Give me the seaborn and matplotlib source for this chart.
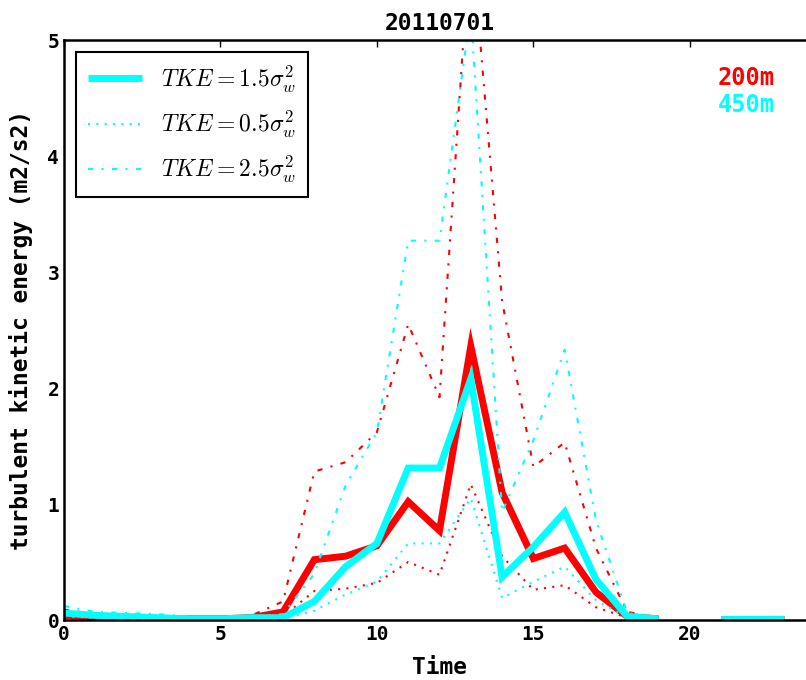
import numpy as np
import pandas as pd
import matplotlib
matplotlib.use("Agg")
import matplotlib.pyplot as plt
import seaborn as sns

hours = list(range(24))

# 200m (red)
red_15 = [0.04, 0.02, 0.02, 0.01, 0.01, 0.01, 0.02, 0.07, 0.52, 0.55, 0.64, 1.02, 0.77, 2.36,
          1.10, 0.53, 0.62, 0.24, 0.03, 0.01, np.nan, 0.01, 0.01, 0.01]
red_05 = [0.02, 0.01, 0.01, 0.01, 0.01, 0.01, 0.01, 0.03, 0.25, 0.27, 0.32, 0.50, 0.39, 1.17,
          0.55, 0.26, 0.30, 0.11, 0.02, 0.01, np.nan, 0.01, 0.01, 0.01]
red_25 = [0.09, 0.05, 0.04, 0.03, 0.03, 0.02, 0.04, 0.16, 1.28, 1.36, 1.62, 2.55, 1.92, 5.95,
          2.75, 1.32, 1.53, 0.62, 0.07, 0.02, np.nan, 0.02, 0.02, 0.02]

# 450m (cyan)
cyan_15 = [0.06, 0.04, 0.03, 0.02, 0.01, 0.01, 0.02, 0.02, 0.16, 0.46, 0.66, 1.31, 1.31, 2.08,
           0.37, 0.63, 0.93, 0.35, 0.03, 0.01, np.nan, 0.01, 0.01, 0.01]
cyan_05 = [0.03, 0.02, 0.02, 0.01, 0.01, 0.01, 0.01, 0.01, 0.08, 0.22, 0.33, 0.66, 0.66, 1.05,
           0.19, 0.33, 0.46, 0.17, 0.02, 0.01, np.nan, 0.01, 0.01, 0.01]
cyan_25 = [0.12, 0.07, 0.06, 0.05, 0.03, 0.02, 0.03, 0.05, 0.40, 1.16, 1.62, 3.27, 3.27, 5.25,
           0.93, 1.55, 2.33, 0.86, 0.06, 0.02, np.nan, 0.02, 0.02, 0.02]

labels = [r"$TKE = 1.5\sigma_w^2$", r"$TKE = 0.5\sigma_w^2$", r"$TKE = 2.5\sigma_w^2$"]
styles = ["-", (0, (1, 3)), (0, (2.5, 4, 1, 4))]
widths = [5, 1.5, 1.5]

sns.set_style("white")
plt.rcParams['font.family'] = ['DejaVu Sans Mono']
plt.rcParams['font.weight'] = 'bold'
plt.rcParams['mathtext.fontset'] = 'cm'
plt.rcParams['text.color'] = 'black'
plt.rcParams['axes.labelcolor'] = 'black'
plt.rcParams['xtick.color'] = 'black'
plt.rcParams['ytick.color'] = 'black'

fig = plt.figure(figsize=(8.06, 6.8), dpi=100)
ax = fig.add_axes([64 / 806, 60 / 680, (815 - 64) / 806, 580 / 680])

def draw(series, color, with_label):
    for s, ls, lw, lab in zip(series, styles, widths, labels):
        df = pd.DataFrame({"Time": hours, "v": s})
        # split at missing hours so the line breaks there
        df["seg"] = df["v"].isna().cumsum()
        df = df.dropna()
        first = True
        for _, part in df.groupby("seg"):
            sns.lineplot(data=part, x="Time", y="v", ax=ax, color=color, linestyle=ls,
                         linewidth=lw, label=lab if (with_label and first) else None,
                         legend=False, solid_capstyle="butt", solid_joinstyle="miter")
            first = False

draw([red_15, red_05, red_25], "red", False)
draw([cyan_15, cyan_05, cyan_25], "cyan", True)

ax.set_xlim(0, 24)
ax.set_ylim(0, 5)
ax.set_xticks([0, 5, 10, 15, 20])
ax.set_yticks([0, 1, 2, 3, 4, 5])
ax.tick_params(direction="in", top=True, right=True, length=5, width=1, labelsize=14)
for sp in ax.spines.values():
    sp.set_linewidth(1.8)
    sp.set_color("black")

ax.set_xlabel("Time", fontsize=16.5, fontweight="bold", labelpad=9)
ax.set_ylabel("turbulent kinetic energy (m2/s2)", fontsize=16.5, fontweight="bold", labelpad=10)
ax.set_title("20110701", fontsize=16.5, fontweight="bold", pad=7)

ax.text(0.871, 0.935, "200m", color="red", fontsize=17, fontweight="bold",
        transform=ax.transAxes, ha="left", va="center")
ax.text(0.871, 0.888, "450m", color="cyan", fontsize=17, fontweight="bold",
        transform=ax.transAxes, ha="left", va="center")

leg = ax.legend(loc="upper left", fontsize=17, fancybox=False, framealpha=1,
                edgecolor="black", handlelength=2.3, handletextpad=0.8,
                borderpad=0.5, labelspacing=0.6)
leg.get_frame().set_linewidth(1.5)

fig.savefig("out.png", dpi=100)
